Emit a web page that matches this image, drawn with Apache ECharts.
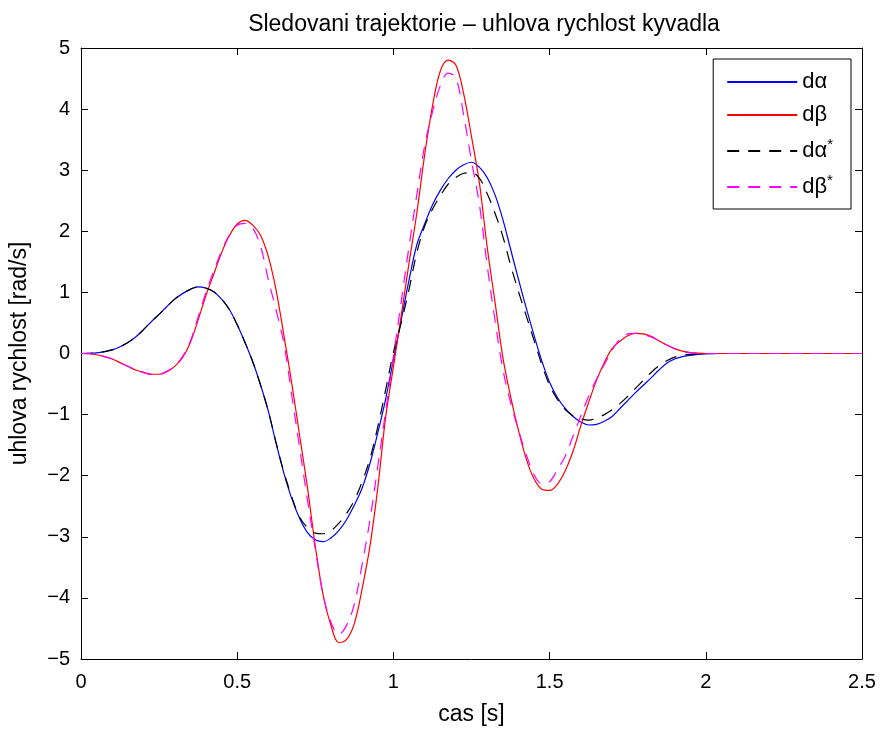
<!DOCTYPE html>
<html>
<head>
<meta charset="utf-8">
<script src="https://cdn.jsdelivr.net/npm/echarts@6/dist/echarts.min.js"></script>
<style>
  html, body { margin: 0; padding: 0; background: #fff; }
  #chart { width: 883px; height: 731px; }
</style>
</head>
<body>
<div id="chart"></div>
<script>
// Time samples [s]
const time = [
  0.000, 0.025, 0.050, 0.075, 0.100, 0.125, 0.150, 0.175, 0.200, 0.225,
  0.250, 0.275, 0.300, 0.325, 0.350, 0.375, 0.400, 0.425, 0.450, 0.475,
  0.500, 0.525, 0.550, 0.575, 0.600, 0.625, 0.650, 0.675, 0.700, 0.725,
  0.750, 0.775, 0.800, 0.825, 0.850, 0.875, 0.900, 0.925, 0.950, 0.975,
  1.000, 1.025, 1.050, 1.075, 1.100, 1.125, 1.150, 1.175, 1.200, 1.225,
  1.250, 1.275, 1.300, 1.325, 1.350, 1.375, 1.400, 1.425, 1.450, 1.475,
  1.500, 1.525, 1.550, 1.575, 1.600, 1.625, 1.650, 1.675, 1.700, 1.725,
  1.750, 1.775, 1.800, 1.825, 1.850, 1.875, 1.900, 1.925, 1.950, 1.975,
  2.000, 2.050, 2.100, 2.200, 2.300, 2.400, 2.500
];

// Measured angular velocity of the arm (d alpha) [rad/s]
const dAlpha = [
  0, 0.003, 0.01, 0.03, 0.06, 0.11, 0.18, 0.27, 0.39, 0.52,
  0.64, 0.77, 0.89, 0.98, 1.05, 1.09, 1.07, 1.01, 0.89, 0.72,
  0.47, 0.18, -0.14, -0.52, -0.95, -1.48, -1.97, -2.38, -2.70, -2.93,
  -3.05, -3.08, -3.02, -2.90, -2.72, -2.48, -2.20, -1.80, -1.30, -0.75,
  -0.10, 0.55, 1.20, 1.78, 2.12, 2.43, 2.67, 2.86, 3.00, 3.09,
  3.13, 3.05, 2.88, 2.60, 2.20, 1.71, 1.22, 0.75, 0.30, -0.12,
  -0.47, -0.72, -0.90, -1.03, -1.12, -1.17, -1.16, -1.11, -1.03, -0.90,
  -0.77, -0.64, -0.52, -0.40, -0.27, -0.16, -0.09, -0.05, -0.03, -0.015,
  -0.005, 0, 0, 0, 0, 0, 0
];

// Measured angular velocity of the pendulum (d beta) [rad/s]
const dBeta = [
  0, -0.003, -0.02, -0.05, -0.09, -0.15, -0.21, -0.27, -0.31, -0.34,
  -0.34, -0.30, -0.21, -0.07, 0.18, 0.55, 0.95, 1.30, 1.65, 1.93,
  2.12, 2.18, 2.10, 1.93, 1.58, 1.02, 0.28, -0.50, -1.35, -2.20,
  -3.15, -3.95, -4.45, -4.73, -4.68, -4.42, -3.85, -3.15, -2.20, -1.05,
  -0.22, 0.62, 1.48, 2.30, 3.25, 4.05, 4.62, 4.80, 4.72, 4.25,
  3.55, 2.80, 1.75, 0.85, -0.05, -0.70, -1.25, -1.72, -2.05, -2.22,
  -2.24, -2.14, -1.92, -1.60, -1.18, -0.80, -0.44, -0.15, 0.08, 0.20,
  0.29, 0.33, 0.32, 0.28, 0.21, 0.14, 0.08, 0.04, 0.015, 0.005,
  0, 0, 0, 0, 0, 0, 0
];

// Reference trajectory for the arm (d alpha*) [rad/s]
const dAlphaRef = [
  0, 0.003, 0.01, 0.03, 0.06, 0.11, 0.18, 0.27, 0.39, 0.52,
  0.64, 0.77, 0.89, 0.98, 1.05, 1.09, 1.07, 1.01, 0.89, 0.72,
  0.47, 0.18, -0.14, -0.52, -0.95, -1.47, -1.95, -2.35, -2.68, -2.85,
  -2.94, -2.95, -2.90, -2.78, -2.62, -2.40, -2.10, -1.72, -1.20, -0.60,
  0.02, 0.50, 1.05, 1.65, 2.08, 2.36, 2.58, 2.77, 2.88, 2.95,
  2.96, 2.87, 2.62, 2.30, 1.92, 1.45, 1.02, 0.62, 0.22, -0.18,
  -0.52, -0.75, -0.92, -1.02, -1.07, -1.09, -1.06, -1.00, -0.92, -0.82,
  -0.70, -0.57, -0.44, -0.31, -0.20, -0.12, -0.06, -0.03, -0.015, -0.007,
  0, 0, 0, 0, 0, 0, 0
];

// Reference trajectory for the pendulum (d beta*) [rad/s]
const dBetaRef = [
  0, -0.003, -0.02, -0.05, -0.09, -0.15, -0.21, -0.27, -0.31, -0.34,
  -0.34, -0.29, -0.20, -0.05, 0.20, 0.60, 1.00, 1.35, 1.68, 1.94,
  2.10, 2.13, 2.05, 1.75, 1.20, 0.70, 0.15, -0.70, -1.55, -2.40,
  -3.20, -3.95, -4.40, -4.60, -4.45, -4.10, -3.45, -2.72, -1.85, -0.95,
  -0.05, 0.85, 1.75, 2.60, 3.40, 3.95, 4.38, 4.59, 4.51, 3.90,
  3.15, 2.45, 1.45, 0.55, -0.25, -0.80, -1.25, -1.65, -1.98, -2.13,
  -2.10, -1.90, -1.68, -1.35, -1.02, -0.70, -0.42, -0.18, 0.05, 0.24,
  0.32, 0.33, 0.31, 0.27, 0.21, 0.14, 0.08, 0.04, 0.015, 0.005,
  0, 0, 0, 0, 0, 0, 0
];

const pairs = (vals) => time.map((t, i) => [t, vals[i]]);
const FONT = '"Liberation Sans", Arial, Helvetica, sans-serif';
const fmtNum = (v) => String(v).replace('-', '\u2212');

const chart = echarts.init(document.getElementById('chart'), null, { renderer: 'canvas' });

const lineSeries = (name, vals, color, dashed) => ({
  name,
  type: 'line',
  xAxisIndex: 0,
  yAxisIndex: 0,
  data: pairs(vals),
  smooth: 0.35,
  showSymbol: false,
  symbol: 'none',
  animation: false,
  lineStyle: { color, width: 1.2, type: dashed ? [12, 9] : 'solid' },
  itemStyle: { color }
});

// Box frame with inward ticks on every side
const axisCommon = {
  axisLine: { show: true, onZero: false, lineStyle: { color: '#000', width: 1 } },
  axisTick: { show: true, inside: true, length: 7, lineStyle: { color: '#000', width: 1 } },
  splitLine: { show: false }
};

chart.setOption({
  backgroundColor: '#fff',
  animation: false,
  title: {
    text: 'Sledovani trajektorie \u2013 uhlova rychlost kyvadla',
    left: 479,
    top: 8,
    textAlign: 'center',
    textStyle: { fontFamily: FONT, fontSize: 23, fontWeight: 'normal', color: '#000' }
  },
  grid: { left: 79.5, right: 21, top: 48, bottom: 69, containLabel: false },
  legend: {
    right: 32,
    top: 59,
    orient: 'vertical',
    backgroundColor: '#fff',
    borderColor: '#000',
    borderWidth: 1,
    padding: [12, 18, 11, 13],
    itemGap: 11,
    itemWidth: 70,
    itemHeight: 20,
    itemStyle: { opacity: 0 },
    textStyle: {
      fontFamily: FONT, fontSize: 22, color: '#000',
      rich: { sup: { fontFamily: FONT, fontSize: 15, verticalAlign: 'top', padding: [0, 0, 13, 0], color: '#000' } }
    },
    formatter: (name) => name.endsWith('*') ? name.slice(0, -1) + '{sup|*}' : name,
    data: ['d\u03b1', 'd\u03b2', 'd\u03b1*', 'd\u03b2*']
  },
  xAxis: [
    Object.assign({
      type: 'value', min: 0, max: 2.5, interval: 0.5, position: 'bottom',
      name: 'cas [s]', nameLocation: 'middle', nameGap: 44,
      nameTextStyle: { fontFamily: FONT, fontSize: 23, color: '#000' },
      axisLabel: { fontFamily: FONT, fontSize: 20, color: '#000', margin: 13, formatter: fmtNum }
    }, axisCommon),
    Object.assign({
      type: 'value', min: 0, max: 2.5, interval: 0.5, position: 'top',
      axisLabel: { show: false }
    }, axisCommon)
  ],
  yAxis: [
    Object.assign({
      type: 'value', min: -5, max: 5, interval: 1, position: 'left',
      name: 'uhlova rychlost [rad/s]', nameLocation: 'middle', nameGap: 50,
      nameTextStyle: { fontFamily: FONT, fontSize: 23, color: '#000' },
      axisLabel: { fontFamily: FONT, fontSize: 20, color: '#000', margin: 11, formatter: fmtNum }
    }, axisCommon),
    Object.assign({
      type: 'value', min: -5, max: 5, interval: 1, position: 'right',
      axisLabel: { show: false }
    }, axisCommon)
  ],
  series: [
    lineSeries('d\u03b1', dAlpha, '#0000ff', false),
    lineSeries('d\u03b2', dBeta, '#ff0000', false),
    lineSeries('d\u03b1*', dAlphaRef, '#000000', true),
    lineSeries('d\u03b2*', dBetaRef, '#ff00ff', true)
  ]
});
</script>
</body>
</html>
